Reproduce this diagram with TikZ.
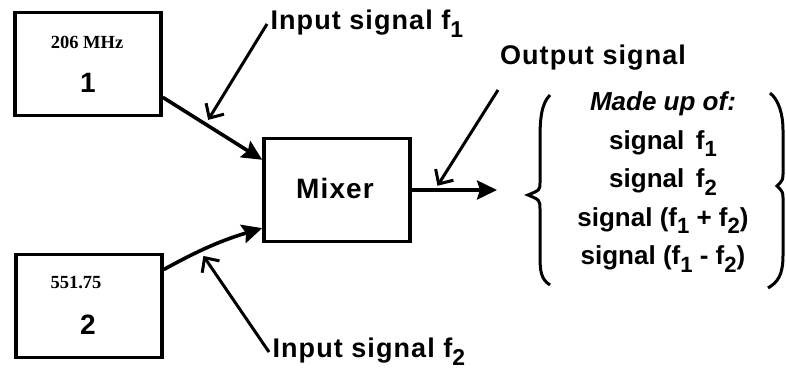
\documentclass[tikz,border=0pt]{standalone}
\usepackage{fontspec}
\setmainfont{Liberation Sans}
\newfontfamily\numfont{Liberation Serif}
\newfontfamily\wideSans[LetterSpace=4]{Liberation Sans}
\usetikzlibrary{arrows.meta}

\newcommand\lblfont{\wideSans\fontsize{27}{30}\selectfont\bfseries}
\newcommand\lowsub[1]{\raisebox{-0.3em}{\scalebox{0.85}{#1}}}

\tikzset{
	box/.style = {draw, line width=3.6pt, minimum width=146pt, minimum height=103pt, inner sep=0pt},
	feed/.style = {line width=3.6pt, -{Stealth[length=20pt, width=19pt, inset=3pt]}},
	pointer/.style = {line width=3pt, -{Straight Barb[length=11pt, width=21pt]}},
	freq/.style = {font=\numfont\fontsize{18.5}{20}\selectfont\bfseries},
	num/.style = {font=\wideSans\fontsize{28}{30}\selectfont\bfseries},
	lbl/.style = {font=\lblfont},
}

\begin{document}
\begin{tikzpicture}[x=1pt, y=-1pt]
	\useasboundingbox (0,0) rectangle (786,376);
	\node[box] (osc1) at (88,64) {};
	\node[box] (osc2) at (89,306) {};
	\node[box] (mixer) at (337,190) {};
	\node[freq] (f1val) at (87,42) {206 MHz};
	\node[num] (n1) at (88,83) {1};
	\node[freq] (f2val) at (76,283) {551.75};
	\node[num] (n2) at (88,325) {2};
	\node[num] (mixtxt) at (335,188) {Mixer};

	\draw[feed] (osc1.-24) -- coordinate[pos=0.43] (p1) (mixer.158);
	\draw[feed] (osc2.26) to[bend left=6] coordinate[pos=0.37] (p2) (mixer.207);
	\coordinate (outtip) at (497,190);
	\draw[feed] (mixer.east) -- coordinate[pos=0.27] (p3) (outtip);

	\node[lbl, anchor=west] (in1) at (267,24) {Input signal f\lowsub{1}};
	\node[lbl, anchor=west] (in2) at (269,352) {Input signal f\lowsub{2}};
	\node[lbl] (outlbl) at (593,58) {Output signal};
	\draw[pointer, shorten >=5pt] (in1.west) -- (p1);
	\draw[pointer, shorten >=6pt] (in2.west) -- (p2);
	\draw[pointer, shorten >=5pt] (498,90) -- (p3);

	\node[align=center, font=\fontsize{26}{38.5}\selectfont\bfseries] (parts) at (663,182)
		{\textit{Made up of:}\\ signal\, f\lowsub{1}\\ signal\, f\lowsub{2}\\
		 signal (f\lowsub{1} + f\lowsub{2})\\ signal (f\lowsub{1} - f\lowsub{2})};
	\draw[line width=3pt] (550,95) .. controls (541,104) and (540,120) .. (540,140) -- (540,182)
		.. controls (540,190) .. (528,195) .. controls (540,200) .. (540,210) -- (540,255)
		.. controls (540,272) and (541,279) .. (550,285);
	\draw[line width=3pt] (770,93) .. controls (779,100) and (783,115) .. (783,130) -- (783,172)
		.. controls (783,180) .. (777,186) .. controls (783,192) .. (783,200) -- (783,255)
		.. controls (783,275) and (778,282) .. (768,288);
\end{tikzpicture}
\end{document}
